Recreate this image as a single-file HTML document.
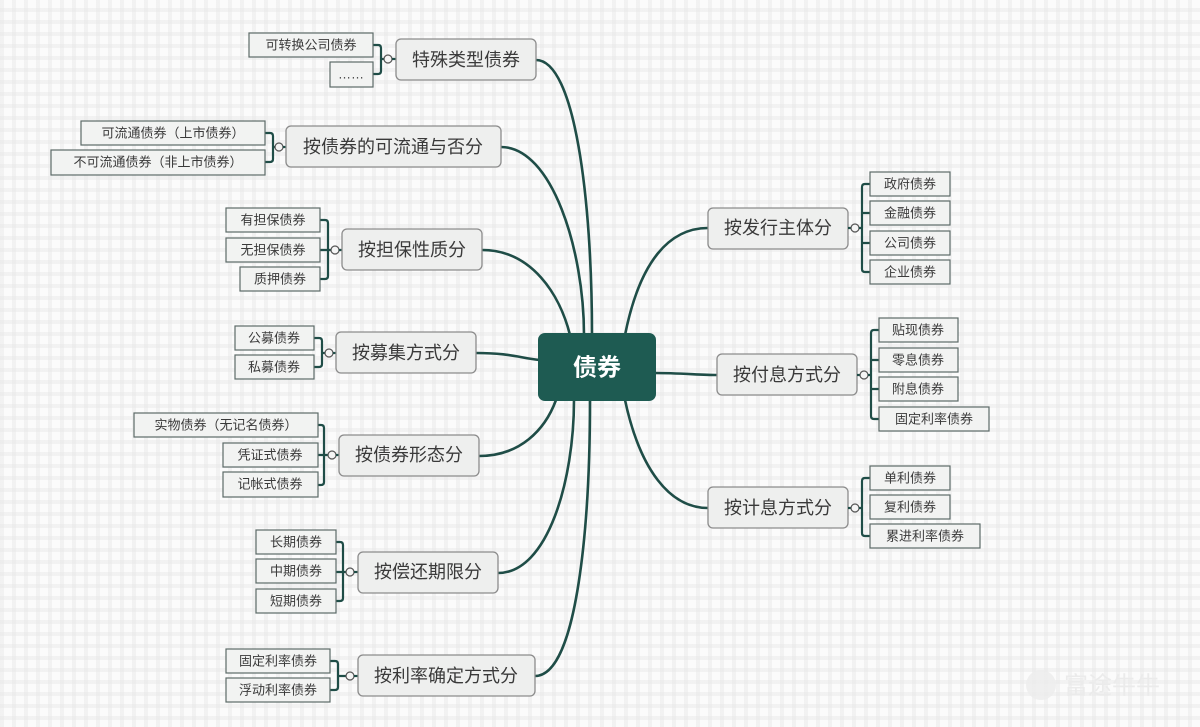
<!DOCTYPE html>
<html><head><meta charset="utf-8"><style>
html,body{margin:0;padding:0;}
body{width:1200px;height:722px;overflow:hidden;
background-color:#fbfbfb;
background-image:linear-gradient(90deg,rgba(232,232,232,.5) 0 4px,transparent 4px),linear-gradient(0deg,rgba(232,232,232,.5) 0 4px,transparent 4px);
background-size:12px 12px;
font-family:"Liberation Sans","Noto Sans CJK SC",sans-serif;}
svg text{font-family:"Liberation Sans","Noto Sans CJK SC",sans-serif;}
.b{fill:#eeefee;stroke:#8c8c8c;stroke-width:1.3}
.l{fill:#f2f3f2;stroke:#5c6b68;stroke-width:1.2}
.bt{font-size:18px;fill:#3a3a3a;text-anchor:middle;dominant-baseline:central}
.lt{font-size:13px;fill:#3a3a3a;text-anchor:middle;dominant-baseline:central}
.e{fill:none;stroke:#1f4d47;stroke-width:2.6}
.k{fill:none;stroke:#1f4d47;stroke-width:2.2}
.c{fill:#f5f5f5;stroke:#555;stroke-width:1.2}
</style></head><body>
<svg width="1200" height="722" xmlns="http://www.w3.org/2000/svg">
<path class="e" d="M536,60 C575,60 592,200 592,335"/>
<path class="e" d="M501,147 C552,147 584,250 584,335"/>
<path class="e" d="M482,250 C532,250 560,295 570,335"/>
<path class="e" d="M476,353 C510,353 520,358 540,360"/>
<path class="e" d="M479,456 C520,456 545,430 556,400"/>
<path class="e" d="M498,573 C548,573 574,480 574,400"/>
<path class="e" d="M535,676 C578,676 590,520 590,400"/>
<path class="e" d="M625,335 C640,260 670,228 708,228"/>
<path class="e" d="M654,373 C680,373 700,375 717,375"/>
<path class="e" d="M625,400 C640,470 670,508 708,508"/>

<rect x="538" y="333" width="118" height="68" rx="7" fill="#1e5b52"/>
<text x="597" y="368" font-size="24" font-weight="bold" fill="#fff" text-anchor="middle" dominant-baseline="central">债券</text>

<path class="k" d="M373,45 H378 Q381,45 381,48 V71 Q381,74 378,74 H373 M381,59 H384"/>
<circle class="c" cx="388" cy="59" r="4"/><path class="k" d="M392,59 H396"/>
<rect class="b" x="396" y="39" width="140" height="41" rx="5"/><text class="bt" x="466" y="60">特殊类型债券</text>
<rect class="l" x="249" y="33" width="124" height="24"/><text class="lt" x="311" y="45">可转换公司债券</text>
<rect class="l" x="330" y="62" width="43" height="25"/><text class="lt" x="351" y="74">……</text>

<path class="k" d="M265,133 H270 Q273,133 273,136 V159 Q273,162 270,162 H265 M273,147 H275"/>
<circle class="c" cx="279" cy="147" r="4"/><path class="k" d="M283,147 H286"/>
<rect class="b" x="286" y="126" width="215" height="41" rx="5"/><text class="bt" x="393" y="147">按债券的可流通与否分</text>
<rect class="l" x="81" y="121" width="184" height="24"/><text class="lt" x="173" y="133">可流通债券（上市债券）</text>
<rect class="l" x="51" y="150" width="214" height="25"/><text class="lt" x="158" y="162">不可流通债券（非上市债券）</text>

<path class="k" d="M320,220 H325 Q328,220 328,223 V276 Q328,279 325,279 H320 M320,250 H331"/>
<circle class="c" cx="335" cy="250" r="4"/><path class="k" d="M339,250 H342"/>
<rect class="b" x="342" y="229" width="140" height="41" rx="5"/><text class="bt" x="412" y="250">按担保性质分</text>
<rect class="l" x="226" y="208" width="94" height="24"/><text class="lt" x="273" y="220">有担保债券</text>
<rect class="l" x="226" y="238" width="94" height="24"/><text class="lt" x="273" y="250">无担保债券</text>
<rect class="l" x="240" y="267" width="80" height="24"/><text class="lt" x="280" y="279">质押债券</text>

<path class="k" d="M314,338 H319 Q322,338 322,341 V364 Q322,367 319,367 H314 M322,353 H325"/>
<circle class="c" cx="329" cy="353" r="4"/><path class="k" d="M333,353 H336"/>
<rect class="b" x="336" y="332" width="140" height="41" rx="5"/><text class="bt" x="406" y="353">按募集方式分</text>
<rect class="l" x="235" y="326" width="79" height="24"/><text class="lt" x="274" y="338">公募债券</text>
<rect class="l" x="235" y="355" width="79" height="24"/><text class="lt" x="274" y="367">私募债券</text>

<path class="k" d="M318,425 H321 Q324,425 324,428 V482 Q324,485 321,485 H318 M318,455 H328"/>
<circle class="c" cx="332" cy="455" r="4"/><path class="k" d="M336,455 H339"/>
<rect class="b" x="339" y="435" width="140" height="41" rx="5"/><text class="bt" x="409" y="455">按债券形态分</text>
<rect class="l" x="134" y="413" width="184" height="24"/><text class="lt" x="226" y="425">实物债券（无记名债券）</text>
<rect class="l" x="223" y="443" width="95" height="24"/><text class="lt" x="270" y="455">凭证式债券</text>
<rect class="l" x="223" y="472" width="95" height="25"/><text class="lt" x="270" y="484">记帐式债券</text>

<path class="k" d="M336,542 H340 Q343,542 343,545 V598 Q343,601 340,601 H336 M336,572 H346"/>
<circle class="c" cx="350" cy="572" r="4"/><path class="k" d="M354,572 H358"/>
<rect class="b" x="358" y="552" width="140" height="41" rx="5"/><text class="bt" x="428" y="572">按偿还期限分</text>
<rect class="l" x="256" y="530" width="80" height="24"/><text class="lt" x="296" y="542">长期债券</text>
<rect class="l" x="256" y="559" width="80" height="24"/><text class="lt" x="296" y="571">中期债券</text>
<rect class="l" x="256" y="589" width="80" height="24"/><text class="lt" x="296" y="601">短期债券</text>

<path class="k" d="M330,661 H335 Q338,661 338,664 V687 Q338,690 335,690 H330 M338,676 H346"/>
<circle class="c" cx="350" cy="676" r="4"/><path class="k" d="M354,676 H358"/>
<rect class="b" x="358" y="655" width="177" height="41" rx="5"/><text class="bt" x="446" y="676">按利率确定方式分</text>
<rect class="l" x="226" y="649" width="104" height="24"/><text class="lt" x="278" y="661">固定利率债券</text>
<rect class="l" x="226" y="678" width="104" height="24"/><text class="lt" x="278" y="690">浮动利率债券</text>

<rect class="b" x="708" y="208" width="140" height="41" rx="5"/><text class="bt" x="778" y="228">按发行主体分</text>
<path class="k" d="M848,228 H851"/><circle class="c" cx="855" cy="228" r="4"/>
<path class="k" d="M859,228 H862 M870,184 H865 Q862,184 862,187 V269 Q862,272 865,272 H870 M862,213 H870 M862,243 H870"/>
<rect class="l" x="870" y="172" width="80" height="24"/><text class="lt" x="910" y="184">政府债券</text>
<rect class="l" x="870" y="201" width="80" height="24"/><text class="lt" x="910" y="213">金融债券</text>
<rect class="l" x="870" y="231" width="80" height="24"/><text class="lt" x="910" y="243">公司债券</text>
<rect class="l" x="870" y="260" width="80" height="24"/><text class="lt" x="910" y="272">企业债券</text>

<rect class="b" x="717" y="354" width="140" height="41" rx="5"/><text class="bt" x="787" y="375">按付息方式分</text>
<path class="k" d="M857,375 H860"/><circle class="c" cx="864" cy="375" r="4"/>
<path class="k" d="M868,375 H871 M879,330 H874 Q871,330 871,333 V416 Q871,419 874,419 H879 M871,360 H879 M871,389 H879"/>
<rect class="l" x="879" y="318" width="79" height="24"/><text class="lt" x="918" y="330">贴现债券</text>
<rect class="l" x="879" y="348" width="79" height="24"/><text class="lt" x="918" y="360">零息债券</text>
<rect class="l" x="879" y="377" width="79" height="24"/><text class="lt" x="918" y="389">附息债券</text>
<rect class="l" x="879" y="407" width="110" height="24"/><text class="lt" x="934" y="419">固定利率债券</text>

<rect class="b" x="708" y="487" width="140" height="41" rx="5"/><text class="bt" x="778" y="508">按计息方式分</text>
<path class="k" d="M848,508 H851"/><circle class="c" cx="855" cy="508" r="4"/>
<path class="k" d="M859,508 H862 M870,478 H865 Q862,478 862,481 V533 Q862,536 865,536 H870"/>
<rect class="l" x="870" y="466" width="80" height="24"/><text class="lt" x="910" y="478">单利债券</text>
<rect class="l" x="870" y="495" width="80" height="24"/><text class="lt" x="910" y="507">复利债券</text>
<rect class="l" x="870" y="524" width="110" height="24"/><text class="lt" x="925" y="536">累进利率债券</text>

<circle cx="1041" cy="685" r="15" fill="#ececec" opacity="0.8"/>
<text x="1064" y="686" font-size="24" fill="#ebebeb" dominant-baseline="central">富途牛牛</text>
</svg>
</body></html>
